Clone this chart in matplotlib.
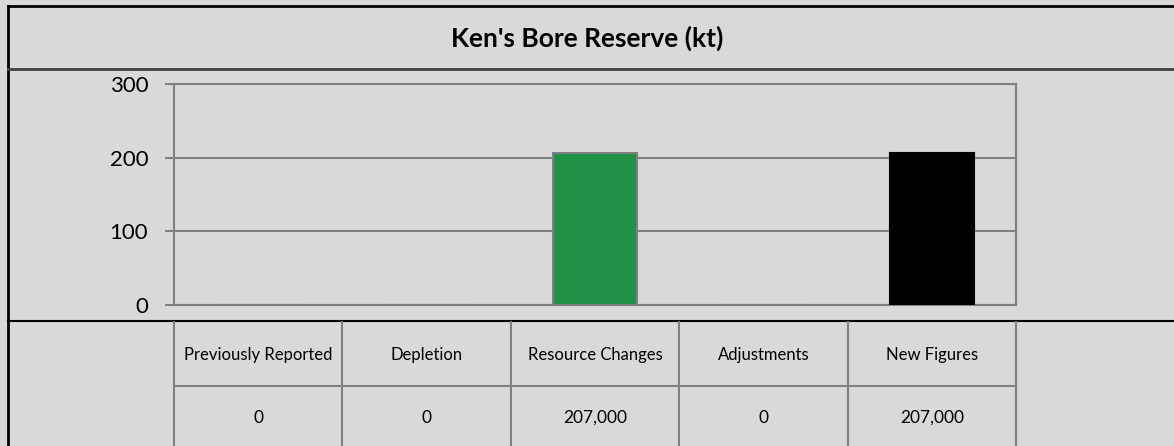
import matplotlib.pyplot as plt
from matplotlib.transforms import blended_transform_factory

# ==========================================
# Data
# ==========================================

categories = ["Previously Reported", "Depletion", "Resource Changes",
              "Adjustments", "New Figures"]
values_kt = [0, 0, 207, 0, 207]
table_values = ["0", "0", "207,000", "0", "207,000"]
bar_colors = ["#219146", "#219146", "#219146", "#219146", "#000000"]
edge_colors = ["#808080", "#808080", "#808080", "#808080", "#000000"]
y_ticks = [0, 100, 200, 300]

bg = "#D9D9D9"
W, H = 1174, 446

plt.rcParams["font.family"] = ["Lato", "DejaVu Sans"]

fig = plt.figure(figsize=(W / 100, H / 100), dpi=100, facecolor=bg)


def fx(px):
    return px / W


def fy(py):
    return 1 - py / H


# plot area
ax = fig.add_axes([fx(174), fy(305), fx(1016) - fx(174), fy(84) - fy(305)])
ax.set_facecolor(bg)

x = range(len(categories))
ax.bar(x, values_kt, width=0.5, color=bar_colors, edgecolor=edge_colors,
       linewidth=1.5, zorder=3)

ax.set_xlim(-0.5, len(categories) - 0.5)
ax.set_ylim(0, 300)
ax.set_yticks(y_ticks)
ax.set_yticklabels([str(t) for t in y_ticks], fontsize=16)
ax.set_xticks([])
ax.tick_params(axis="y", length=6.5, width=1.5, color="#808080", pad=12)
ax.grid(axis="y", color="#808080", linewidth=1.5, zorder=0)
for s in ax.spines.values():
    s.set_color("#808080")
    s.set_linewidth(1.5)

# ==========================================
# Title band and frame
# ==========================================

fig.add_artist(plt.Line2D([fx(8), fx(8)], [fy(6), 0], color="black", lw=2))
fig.add_artist(plt.Line2D([fx(8), 1], [fy(6), fy(6)], color="black", lw=2))
fig.add_artist(plt.Line2D([fx(8), 1], [fy(69), fy(69)], color="#404040", lw=2))
fig.text(0.5, fy(38), "Ken's Bore Reserve (kt)", ha="center", va="center",
         fontsize=19, fontweight="bold")

# ==========================================
# Data table below the chart
# ==========================================

fig.add_artist(plt.Line2D([fx(8), 1], [fy(321), fy(321)], color="black", lw=1.5))
fig.add_artist(plt.Line2D([fx(175), fx(1015)], [fy(386), fy(386)],
                          color="#808080", lw=1.5))

tr = blended_transform_factory(ax.transData, fig.transFigure)
for i in range(len(categories) + 1):
    line = plt.Line2D([i - 0.5, i - 0.5], [0, fy(322)], transform=tr,
                      color="#808080", lw=1.5, clip_on=False)
    fig.add_artist(line)

for i, (cat, val) in enumerate(zip(categories, table_values)):
    fig.text(i, fy(355), cat, transform=tr, ha="center", va="center",
             fontsize=12)
    fig.text(i, fy(418), val, transform=tr, ha="center", va="center",
             fontsize=12.5)

fig.savefig("out.png", dpi=100, facecolor=bg)
